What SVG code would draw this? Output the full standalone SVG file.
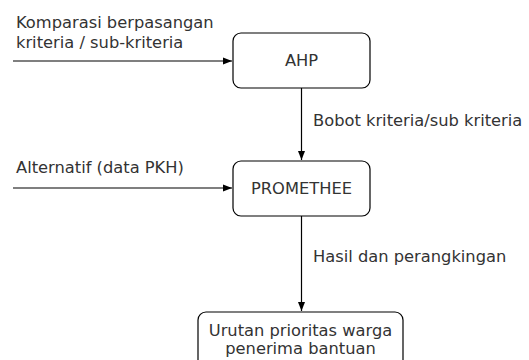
<svg xmlns="http://www.w3.org/2000/svg" width="529" height="360" viewBox="0 0 529 360">
<style>
.box{fill:#fff;stroke:#000;stroke-width:1.2}
.t{font-family:"DejaVu Sans",Verdana,sans-serif;font-size:16.3px;fill:#333}
.c{text-anchor:middle}
.ln{stroke:#000;stroke-width:1.2;fill:none}
</style>
<defs>
<marker id="a" markerWidth="10" markerHeight="10" refX="9" refY="4" orient="auto" markerUnits="userSpaceOnUse">
<path d="M0,0.5 L9,4 L0,7.5 Z" fill="#000"/>
</marker>
</defs>
<g id="connectors">
<line class="ln" x1="13" y1="61" x2="232" y2="61" marker-end="url(#a)"/>
<line class="ln" x1="13" y1="188" x2="232" y2="188" marker-end="url(#a)"/>
<line class="ln" x1="301.5" y1="88" x2="301.5" y2="160" marker-end="url(#a)"/>
<line class="ln" x1="301.5" y1="216" x2="301.5" y2="311" marker-end="url(#a)"/>
<text class="t" x="16" y="28">Komparasi berpasangan</text>
<text class="t" x="16" y="48">kriteria / sub-kriteria</text>
<text class="t" x="16" y="173">Alternatif (data PKH)</text>
<text class="t" x="313" y="126">Bobot kriteria/sub kriteria</text>
<text class="t" x="313" y="262">Hasil dan perangkingan</text>
</g>
<g id="ahp">
<rect class="box" x="233" y="33" width="137" height="55" rx="8"/>
<text class="t c" x="301.5" y="66">AHP</text>
</g>
<g id="promethee">
<rect class="box" x="233" y="161" width="137" height="55" rx="8"/>
<text class="t c" x="301.5" y="194">PROMETHEE</text>
</g>
<g id="urutan">
<rect class="box" x="198" y="312" width="205" height="60" rx="8"/>
<text class="t c" x="300.5" y="336">Urutan prioritas warga</text>
<text class="t c" x="300.5" y="354">penerima bantuan</text>
</g>
</svg>
